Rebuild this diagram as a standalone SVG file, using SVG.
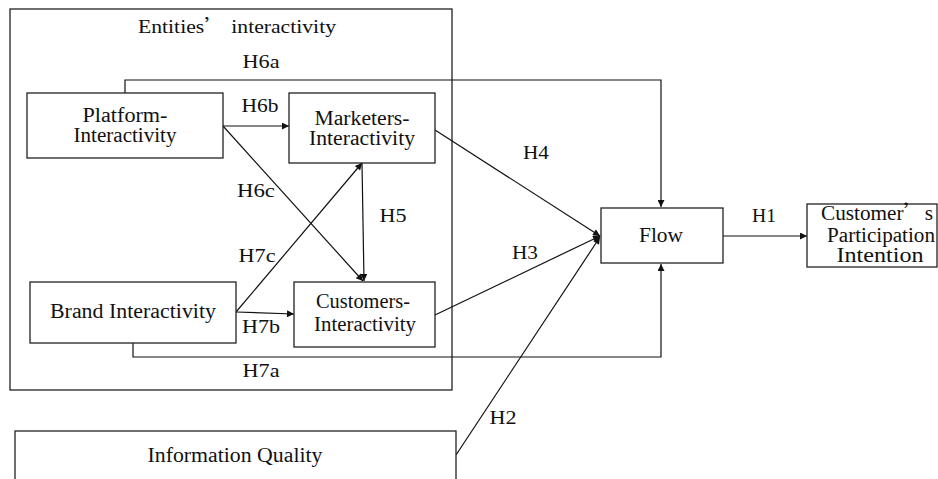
<svg xmlns="http://www.w3.org/2000/svg" width="938" height="479" viewBox="0 0 938 479">
  <style>
    .box { fill: #ffffff; stroke: #222222; stroke-width: 1.3; }
    .frame { fill: none; stroke: #222222; stroke-width: 1.3; }
    .node-text { font-family: "Liberation Serif", "Times New Roman", serif; font-size: 20px; fill: #111111; text-anchor: middle; }
    .label { font-family: "Liberation Serif", "Times New Roman", serif; font-size: 18px; fill: #111111; text-anchor: middle; }
    .wide { font-family: "Noto Sans CJK SC", sans-serif; }
    .conn { fill: none; stroke: #111111; stroke-width: 1.2; }
  </style>
  <defs>
    <marker id="arrow" viewBox="0 0 10 10" refX="10" refY="5" markerWidth="9" markerHeight="7" markerUnits="userSpaceOnUse" orient="auto">
      <path d="M0,0 L10,5 L0,10 z" fill="#111111"/>
    </marker>
  </defs>
  <rect width="938" height="479" fill="#ffffff"/>

  <!-- grouping frame for the three interactivity constructs -->
  <g id="entities-frame">
    <rect class="frame" x="10" y="9" width="442" height="381"/>
    <text class="label" x="237" y="33" textLength="198" lengthAdjust="spacingAndGlyphs">Entities<tspan class="wide">’</tspan> interactivity</text>
  </g>

  <!-- connectors -->
  <g id="connectors">
    <!-- H6a: platform over the top into Flow -->
    <polyline class="conn" points="125,93 125,80 661,80 661,207" marker-end="url(#arrow)"/>
    <!-- H6b -->
    <line class="conn" x1="223" y1="126" x2="289" y2="126" marker-end="url(#arrow)"/>
    <!-- H6c -->
    <line class="conn" x1="223" y1="126" x2="363" y2="281" marker-end="url(#arrow)"/>
    <!-- H7c -->
    <line class="conn" x1="236" y1="312" x2="362" y2="163" marker-end="url(#arrow)"/>
    <!-- H5 -->
    <line class="conn" x1="362" y1="163" x2="364" y2="281" marker-end="url(#arrow)"/>
    <!-- H7b -->
    <line class="conn" x1="236" y1="312" x2="294" y2="314" marker-end="url(#arrow)"/>
    <!-- H7a: brand under the bottom into Flow -->
    <polyline class="conn" points="133,343 133,357 661,357 661,264" marker-end="url(#arrow)"/>
    <!-- H4 -->
    <line class="conn" x1="435" y1="130" x2="600" y2="236" marker-end="url(#arrow)"/>
    <!-- H3 -->
    <line class="conn" x1="435" y1="315" x2="600" y2="236" marker-end="url(#arrow)"/>
    <!-- H2 -->
    <line class="conn" x1="456" y1="455" x2="600" y2="237" marker-end="url(#arrow)"/>
    <!-- H1 -->
    <line class="conn" x1="723" y1="236" x2="807" y2="236" marker-end="url(#arrow)"/>

    <text class="label" x="261" y="68" textLength="37" lengthAdjust="spacingAndGlyphs">H6a</text>
    <text class="label" x="260" y="112" textLength="37" lengthAdjust="spacingAndGlyphs">H6b</text>
    <text class="label" x="256" y="197" textLength="38" lengthAdjust="spacingAndGlyphs">H6c</text>
    <text class="label" x="393" y="222" textLength="27" lengthAdjust="spacingAndGlyphs">H5</text>
    <text class="label" x="257" y="262" textLength="37" lengthAdjust="spacingAndGlyphs">H7c</text>
    <text class="label" x="261" y="333" textLength="38" lengthAdjust="spacingAndGlyphs">H7b</text>
    <text class="label" x="261" y="377" textLength="37" lengthAdjust="spacingAndGlyphs">H7a</text>
    <text class="label" x="536" y="159" textLength="26" lengthAdjust="spacingAndGlyphs">H4</text>
    <text class="label" x="525" y="259" textLength="26" lengthAdjust="spacingAndGlyphs">H3</text>
    <text class="label" x="503" y="424" textLength="27" lengthAdjust="spacingAndGlyphs">H2</text>
    <text class="label" x="764" y="222" textLength="24" lengthAdjust="spacingAndGlyphs">H1</text>
  </g>

  <g id="platform-interactivity">
    <rect class="box" x="27" y="93" width="196" height="65"/>
    <text class="node-text" x="125" y="122" textLength="85" lengthAdjust="spacingAndGlyphs">Platform-</text>
    <text class="node-text" x="125" y="142" textLength="103" lengthAdjust="spacingAndGlyphs">Interactivity</text>
  </g>

  <g id="marketers-interactivity">
    <rect class="box" x="289" y="93" width="146" height="70"/>
    <text class="node-text" x="362" y="125" textLength="95" lengthAdjust="spacingAndGlyphs">Marketers-</text>
    <text class="node-text" x="362" y="145" textLength="106" lengthAdjust="spacingAndGlyphs">Interactivity</text>
  </g>

  <g id="brand-interactivity">
    <rect class="box" x="30" y="282" width="206" height="61"/>
    <text class="node-text" x="133" y="318" textLength="166" lengthAdjust="spacingAndGlyphs">Brand Interactivity</text>
  </g>

  <g id="customers-interactivity">
    <rect class="box" x="294" y="282" width="141" height="65"/>
    <text class="node-text" x="363" y="308" textLength="94" lengthAdjust="spacingAndGlyphs">Customers-</text>
    <text class="node-text" x="365" y="331" textLength="102" lengthAdjust="spacingAndGlyphs">Interactivity</text>
  </g>

  <g id="information-quality">
    <rect class="box" x="15" y="431" width="441" height="60"/>
    <text class="node-text" x="235" y="462" textLength="175" lengthAdjust="spacingAndGlyphs">Information Quality</text>
  </g>

  <g id="flow">
    <rect class="box" x="601" y="208" width="122" height="55"/>
    <text class="node-text" x="661" y="242" textLength="44" lengthAdjust="spacingAndGlyphs">Flow</text>
  </g>

  <g id="participation-intention">
    <rect class="box" x="807" y="204" width="130" height="63"/>
    <text class="node-text" x="877" y="220" textLength="112" lengthAdjust="spacingAndGlyphs">Customer<tspan class="wide">’</tspan>s</text>
    <text class="node-text" x="881" y="242" textLength="108" lengthAdjust="spacingAndGlyphs">Participation</text>
    <text class="node-text" x="880" y="262" textLength="87" lengthAdjust="spacingAndGlyphs">Intention</text>
  </g>
</svg>
